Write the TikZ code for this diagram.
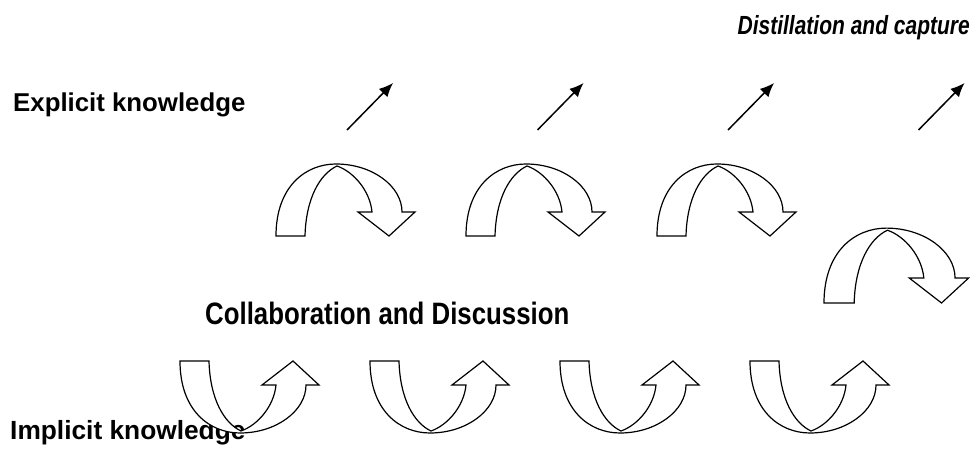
\documentclass[tikz,border=0pt]{standalone}
\usepackage{fontspec}
\setmainfont{Liberation Sans}
\usetikzlibrary{arrows.meta}
\usetikzlibrary{math}

\tikzset{
  lbl/.style={font=\fontsize{25.8}{30}\selectfont\bfseries, inner sep=0},
  bentline/.style={line width=1.2, fill=white, line join=miter},
  pics/bentarrow/.style={code={
    \draw[bentline] (0,0) .. controls (0,50) and (30,72) .. (60,72)
      .. controls (96,72) and (126,50) .. (126,24) -- (139,24) -- (113,0) -- (82,24) -- (96,24)
      .. controls (94,45) and (78,64) .. (61,70)
      .. controls (44,62) and (30,38) .. (29,0) -- cycle;
  }},
}

\begin{document}
\begin{tikzpicture}[x=1pt, y=1pt]
\tikzmath{
\dx=190.5;
}
\useasboundingbox (0,0) rectangle (979,452);

\node[lbl, font=\fontsize{21}{25}\selectfont\bfseries\itshape, anchor=east, yscale=1.25, transform shape] (distil) at (970,424) {Distillation and capture};
\node[lbl, anchor=west] (explicit) at (13,347) {Explicit knowledge};
\node[lbl, anchor=west, yscale=1.2, transform shape] (collab) at (205,139) {Collaboration and Discussion};
\node[lbl, font=\fontsize{26.3}{30}\selectfont\bfseries, anchor=base west] (implicit) at (10,12) {Implicit knowledge};

\coordinate (up1a) at (347,322);   \coordinate (up1b) at (393,369);
\coordinate (up2a) at (347+\dx,322); \coordinate (up2b) at (393+\dx,369);
\coordinate (up3a) at (347+2*\dx,322); \coordinate (up3b) at (393+2*\dx,369);
\coordinate (up4a) at (347+3*\dx,322); \coordinate (up4b) at (393+3*\dx,369);

\draw[-{Latex[length=14, width=12]}, line width=1.5] (up1a) -- (up1b);
\draw[-{Latex[length=14, width=12]}, line width=1.5] (up2a) -- (up2b);
\draw[-{Latex[length=14, width=12]}, line width=1.5] (up3a) -- (up3b);
\draw[-{Latex[length=14, width=12]}, line width=1.5] (up4a) -- (up4b);

\pic at (276,216) {bentarrow};
\pic at (466,216) {bentarrow};
\pic at (657,216) {bentarrow};
\pic[scale=1.04] at (824,149) {bentarrow};

\pic[yscale=-1] at (180,91) {bentarrow};
\pic[yscale=-1] at (370,91) {bentarrow};
\pic[yscale=-1] at (560,91) {bentarrow};
\pic[yscale=-1] at (750,91) {bentarrow};

\end{tikzpicture}
\end{document}
